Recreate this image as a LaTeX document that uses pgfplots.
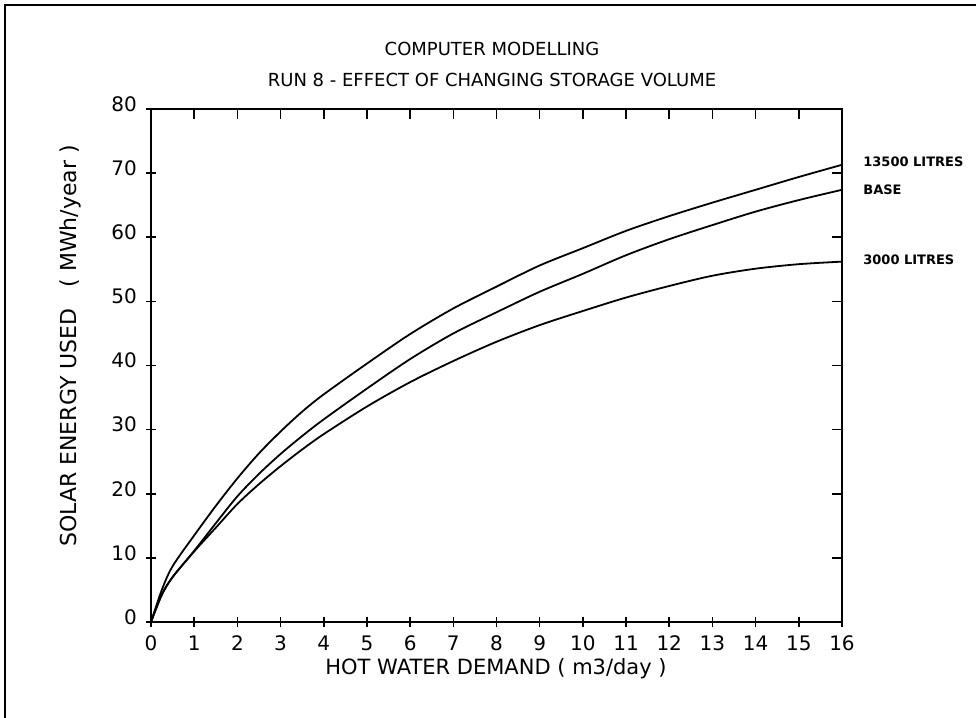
\documentclass[border=0pt]{standalone}
\usepackage{fontspec}
\setmainfont{DejaVu Sans}
\usepackage{pgfplots}
\pgfplotsset{compat=1.18}
\pgfplotsset{
  base/.style={
    at={(75.5pt,48pt)}, anchor=south west, scale only axis,
    width=345.5pt, height=256.5pt,
    xmin=0, xmax=16, ymin=0, ymax=80,
    xtick={0,1,...,16}, ytick={0,10,...,80},
    major tick length=5pt,
    axis line style={line width=1.1pt},
    every tick/.style={black, line width=0.8pt},
    /pgf/number format/assume math mode=true,
    tick label style={font=\fontsize{10}{12}\selectfont},
  }
}
\begin{document}
\begin{tikzpicture}
\useasboundingbox (0,0) rectangle (488pt,359pt);
\draw[line width=1pt] (2.5pt,0) -- (2.5pt,356.5pt) -- (488pt,356.5pt);

\begin{axis}[base,
  tick align=center, xtick pos=left, ytick pos=left,
  yticklabel style={yshift=2.5pt, xshift=-1pt},
  xticklabel style={yshift=-1pt},
  clip=false]
\addplot[black, line width=0.9pt, smooth] coordinates {
(0,0) (0.25,5) (0.5,8.7) (1,13.5) (1.5,18.1) (2,22.4) (2.5,26.3) (3,29.7) (3.5,32.8) (4,35.5) (5,40.3)
(6,44.9) (7,48.9) (8,52.3) (9,55.6) (10,58.3) (11,61.0) (12,63.3) (13,65.4)
(14,67.4) (15,69.4) (16,71.3)};
\addplot[black, line width=0.9pt, smooth] coordinates {
(0,0) (0.25,4.2) (0.5,7.0) (1,11.1) (1.5,15.4) (2,19.6) (2.5,23.1) (3,26.2) (3.5,29.0) (4,31.6) (5,36.4)
(6,41.0) (7,45.0) (8,48.3) (9,51.5) (10,54.3) (11,57.2) (12,59.7) (13,61.9)
(14,64.0) (15,65.8) (16,67.4)};
\addplot[black, line width=0.9pt, smooth] coordinates {
(0,0) (0.25,4.3) (0.5,7.0) (1,11.0) (1.5,14.7) (2,18.4) (2.5,21.5) (3,24.3) (3.5,26.9) (4,29.3) (5,33.6)
(6,37.4) (7,40.7) (8,43.7) (9,46.3) (10,48.5) (11,50.6) (12,52.4) (13,54.0)
(14,55.1) (15,55.8) (16,56.2)};
\node[anchor=west, font=\bfseries\fontsize{6.5}{8}\selectfont, inner sep=0pt]
  at ([xshift=10.5pt]axis cs:16,71.7) {13500 LITRES};
\node[anchor=west, font=\bfseries\fontsize{6.5}{8}\selectfont, inner sep=0pt]
  at ([xshift=10.5pt]axis cs:16,67.4) {BASE};
\node[anchor=west, font=\bfseries\fontsize{6.5}{8}\selectfont, inner sep=0pt]
  at ([xshift=10.5pt]axis cs:16,56.5) {3000 LITRES};
\end{axis}

\begin{axis}[base,
  tick align=inside, xtick pos=right, ytick pos=right,
  xticklabels={}, yticklabels={}]
\end{axis}

\node[font=\fontsize{9}{11}\selectfont] at (246pt,334.5pt) {COMPUTER MODELLING};
\node[font=\fontsize{9}{11}\selectfont] at (246pt,319pt) {RUN 8 - EFFECT OF CHANGING STORAGE VOLUME};
\node[font=\fontsize{10.5}{12}\selectfont] at (248pt,24.5pt) {HOT WATER DEMAND ( m3/day )};
\node[font=\fontsize{11}{13}\selectfont, rotate=90] at (35pt,186pt) {SOLAR ENERGY USED \ \ ( MWh/year )};
\end{tikzpicture}
\end{document}
